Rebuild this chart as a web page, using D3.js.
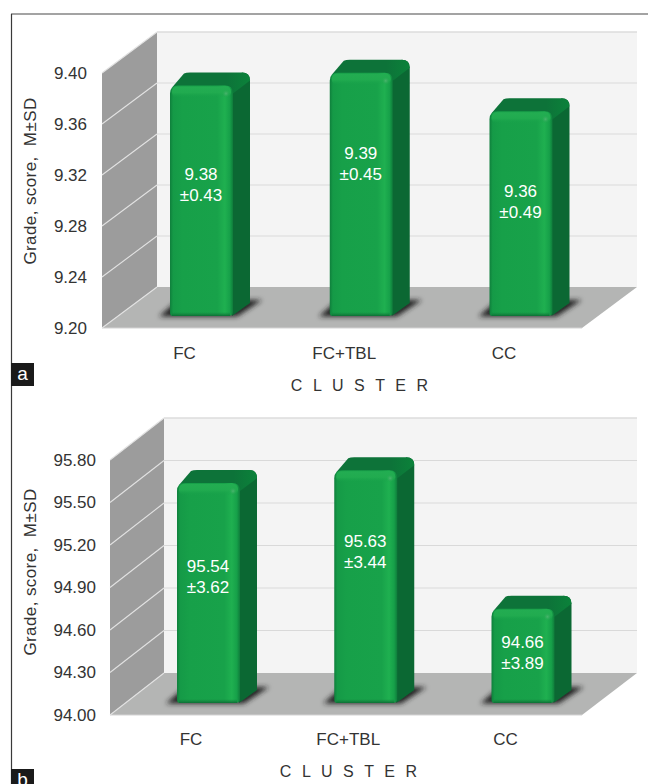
<!DOCTYPE html>
<html>
<head>
<meta charset="utf-8">
<script src="https://cdn.jsdelivr.net/npm/d3@7"></script>
<style>
  html, body { margin: 0; padding: 0; background: #fff; }
  svg { display: block; }
  text { font-family: "Liberation Sans", Arial, sans-serif; }
</style>
</head>
<body>
<svg id="chart" width="648" height="784"></svg>
<script>
// Cluster categories and grade summaries
const categories = ["FC", "FC+TBL", "CC"];
const meansA = [9.38, 9.39, 9.36];
const sdsA = [0.43, 0.45, 0.49];
const ticksA = [9.20, 9.24, 9.28, 9.32, 9.36, 9.40];
const meansB = [95.54, 95.63, 94.66];
const sdsB = [3.62, 3.44, 3.89];
const ticksB = [94.00, 94.30, 94.60, 94.90, 95.20, 95.50, 95.80];
const yTitle = "Grade, score,  M\u00b1SD";
const xTitle = "C L U S T E R";

// Box geometry of each panel
const layoutA = {
  tag: "a", tagY: 363, tagH: 23,
  left: 102, floorRight: 582, backRight: 637, depthX: 55, depthY: 41,
  yBottom: 328, yTop: 73, barBase: 316, barTop: 60,
  faces: [201.5, 521], labelShift: -17.5, catY: 355, titleX: 361, titleY: 385,
  yTitleY: 181, tickRight: 87, valueDrop: [88, 80, 80]
};
const layoutB = {
  tag: "b", tagY: 769, tagH: 15,
  left: 110, floorRight: 582, backRight: 637, depthX: 54, depthY: 42,
  yBottom: 715, yTop: 460, barBase: 703, barTop: 446,
  faces: [208.5, 523], labelShift: -18, catY: 741, titleX: 350, titleY: 771,
  yTitleY: 572, tickRight: 96, valueDrop: [83, 71, 33]
};

const svg = d3.select("#chart");
const defs = svg.append("defs");

// Shared paints for the bars
const faceGrad = defs.append("linearGradient").attr("id", "face");
[[0, "#0f7f3c"], [0.05, "#159a47"], [0.2, "#17a049"], [0.75, "#18a24a"],
 [0.87, "#1fb050"], [0.95, "#16a049"], [1, "#0f7c3b"]]
  .forEach(([o, c]) => faceGrad.append("stop").attr("offset", o).attr("stop-color", c));

const bevelGrad = defs.append("linearGradient").attr("id", "bevel")
  .attr("x1", 0).attr("x2", 0).attr("y1", 0).attr("y2", 1);
[[0, "#23ad52", 1], [0.55, "#22ac50", 0.9], [1, "#18a24a", 0]]
  .forEach(([o, c, a]) => bevelGrad.append("stop").attr("offset", o)
    .attr("stop-color", c).attr("stop-opacity", a));

const footGrad = defs.append("linearGradient").attr("id", "foot")
  .attr("x1", 0).attr("x2", 0).attr("y1", 0).attr("y2", 1);
[[0, "#137f3c", 0], [1, "#0d6f35", 1]]
  .forEach(([o, c, a]) => footGrad.append("stop").attr("offset", o)
    .attr("stop-color", c).attr("stop-opacity", a));

const topGrad = defs.append("linearGradient").attr("id", "topFace");
[[0, "#0d7339"], [0.7, "#0d7339"], [1, "#0b823a"]]
  .forEach(([o, c]) => topGrad.append("stop").attr("offset", o).attr("stop-color", c));

const glow = defs.append("radialGradient").attr("id", "glow");
[[0, "#58b878", 0.75], [1, "#2aa855", 0]]
  .forEach(([o, c, a]) => glow.append("stop").attr("offset", o)
    .attr("stop-color", c).attr("stop-opacity", a));

defs.append("filter").attr("id", "soft")
  .attr("x", "-30%").attr("y", "-60%").attr("width", "160%").attr("height", "220%")
  .append("feGaussianBlur").attr("stdDeviation", 2.6);

// Outer frame of the figure
svg.append("line").attr("x1", 11).attr("x2", 648).attr("y1", 14).attr("y2", 14)
  .attr("stroke", "#858585").attr("stroke-width", 1.5);
svg.append("line").attr("x1", 11.5).attr("x2", 11.5).attr("y1", 14).attr("y2", 784)
  .attr("stroke", "#3a3a3a").attr("stroke-width", 1.2);

function pathString(points) {
  return d3.line()(points) + "Z";
}

function drawPanel(layout, means, sds, ticks) {
  const L = layout;
  const g = svg.append("g");
  const y = d3.scaleLinear().domain(d3.extent(ticks)).range([L.yBottom, L.yTop]);
  const barY = d3.scaleLinear().domain(d3.extent(ticks)).range([L.barBase, L.barTop]);
  const face = d3.scalePoint().domain(categories).range(L.faces);
  const backX = L.left + L.depthX;
  const backBottom = L.yBottom - L.depthY;
  const backTop = L.yTop - L.depthY;

  // Back wall
  g.append("rect").attr("x", backX).attr("y", backTop)
    .attr("width", L.backRight - backX).attr("height", backBottom - backTop)
    .attr("fill", "#f4f4f4");
  g.append("line").attr("x1", backX).attr("x2", L.backRight)
    .attr("y1", backTop).attr("y2", backTop)
    .attr("stroke", "#dcdcdc").attr("stroke-width", 1.3);

  // Side wall
  g.append("path").attr("fill", "#9c9c9c").attr("d", pathString([
    [L.left, L.yBottom], [L.left, L.yTop], [backX, backTop], [backX, backBottom]
  ]));

  // Floor
  g.append("path").attr("fill", "#b4b5b4").attr("d", pathString([
    [L.left, L.yBottom], [backX, backBottom], [L.backRight, backBottom], [L.floorRight, L.yBottom]
  ]));
  g.append("line").attr("x1", L.left).attr("x2", L.floorRight)
    .attr("y1", L.yBottom).attr("y2", L.yBottom)
    .attr("stroke", "#d4d4d4").attr("stroke-width", 1.2);

  // Gridlines run along the back wall and fold onto the side wall
  const grid = g.append("g").selectAll("g").data(ticks).join("g");
  grid.append("line")
    .attr("x1", L.left).attr("x2", backX)
    .attr("y1", d => y(d)).attr("y2", d => y(d) - L.depthY)
    .attr("stroke", "#e2e2e2").attr("stroke-width", 1.1);
  grid.filter((d, i) => i > 0 && i < ticks.length - 1).append("line")
    .attr("x1", backX).attr("x2", L.backRight)
    .attr("y1", d => y(d) - L.depthY).attr("y2", d => y(d) - L.depthY)
    .attr("stroke", "#d9d9d9").attr("stroke-width", 1.2);

  // Bars
  const halfW = 31.5, dx = 17, dy = 13, r = 8;
  const bars = g.append("g").selectAll("g").data(means).join("g")
    .attr("transform", (d, i) => `translate(${face(categories[i])},0)`);

  // Contact shadow on the floor
  bars.append("path").attr("fill", "#222").attr("filter", "url(#soft)")
    .attr("d", () => pathString([
      [-halfW - 11, L.barBase + 0.5], [halfW + 4, L.barBase + 0.5],
      [halfW + dx + 12, L.barBase - dy - 3], [-halfW + 8, L.barBase - dy - 3]
    ]));

  // Right side of the bar
  bars.append("path").attr("fill", "#0b6833").attr("d", d => {
    const t = barY(d);
    return `M${halfW - 2},${t + 2}L${halfW + dx - r},${t - dy}` +
      `Q${halfW + dx},${t - dy} ${halfW + dx},${t - dy + r}` +
      `L${halfW + dx},${L.barBase - dy}L${halfW - 1},${L.barBase}Z`;
  });

  // Top of the bar
  bars.append("path").attr("fill", "url(#topFace)").attr("d", d => {
    const t = barY(d);
    return `M${-halfW + 2},${t + 2}L${-halfW + dx - 3},${t - dy + 1}` +
      `Q${-halfW + dx - 1},${t - dy} ${-halfW + dx + 3},${t - dy}` +
      `L${halfW + dx - r},${t - dy}Q${halfW + dx},${t - dy} ${halfW + dx},${t - dy + r}` +
      `L${halfW},${t + 8}Z`;
  });

  // Front of the bar, with rounded corners
  const frontPath = d => {
    const t = barY(d);
    return `M${-halfW},${t + r}Q${-halfW},${t} ${-halfW + r},${t}` +
      `L${halfW - r},${t}Q${halfW},${t} ${halfW},${t + r}` +
      `L${halfW},${L.barBase - 4}Q${halfW},${L.barBase} ${halfW - 5},${L.barBase}` +
      `L${-halfW + 3},${L.barBase}Q${-halfW},${L.barBase} ${-halfW},${L.barBase - 3}Z`;
  };
  bars.append("path").attr("fill", "url(#face)").attr("d", frontPath);

  // Lit bevel under the top edge, dark fade at the foot, corner glint
  bars.append("rect").attr("x", -halfW + 2).attr("width", 2 * halfW - 4)
    .attr("y", d => barY(d) + 1).attr("height", 11).attr("rx", 5)
    .attr("fill", "url(#bevel)");
  bars.append("rect").attr("x", -halfW + 2).attr("width", 2 * halfW - 5)
    .attr("y", L.barBase - 4).attr("height", 4)
    .attr("fill", "url(#foot)");
  bars.append("circle").attr("cx", halfW - 7).attr("cy", d => barY(d) + 8).attr("r", 4)
    .attr("fill", "url(#glow)");

  // Mean and SD printed on the bars
  const values = bars.append("text").attr("text-anchor", "middle")
    .attr("fill", "#ffffff").attr("font-size", 17);
  values.append("tspan").attr("x", -0.5)
    .attr("y", (d, i) => barY(d) + L.valueDrop[i] + 6)
    .text(d => d.toFixed(2));
  values.append("tspan").attr("x", -0.5)
    .attr("y", (d, i) => barY(d) + L.valueDrop[i] + 27)
    .text((d, i) => "\u00b1" + sds[i].toFixed(2));

  // Value axis
  const yAxis = d3.axisLeft(y).tickValues(ticks).tickSize(0).tickFormat(d3.format(".2f"));
  g.append("g").attr("transform", `translate(${L.tickRight + 3},0)`).call(yAxis)
    .call(s => s.select(".domain").remove())
    .call(s => s.selectAll("text").attr("font-size", 17).attr("fill", "#333")
      .attr("font-family", "'Liberation Sans', Arial, sans-serif"));

  // Category axis
  const cat = d3.scalePoint().domain(categories)
    .range(L.faces.map(v => v + L.labelShift));
  g.append("g").attr("transform", `translate(0,${L.catY - 6})`)
    .call(d3.axisBottom(cat).tickSize(0).tickPadding(0))
    .call(s => s.select(".domain").remove())
    .call(s => s.selectAll("text").attr("font-size", 17).attr("fill", "#333").attr("dy", "0.6em")
      .attr("font-family", "'Liberation Sans', Arial, sans-serif"));

  // Axis titles
  g.append("text").attr("transform", `translate(36,${L.yTitleY}) rotate(-90)`)
    .attr("text-anchor", "middle").attr("font-size", 17).attr("fill", "#333")
    .attr("letter-spacing", "0.4px")
    .attr("xml:space", "preserve").style("white-space", "pre").text(yTitle);
  g.append("text").attr("x", L.titleX).attr("y", L.titleY + 6)
    .attr("text-anchor", "middle").attr("font-size", 16).attr("fill", "#333")
    .attr("letter-spacing", "3.1px").text(xTitle);

  // Panel tag
  g.append("rect").attr("x", 11).attr("y", L.tagY).attr("width", 23).attr("height", L.tagH)
    .attr("fill", "#1a1a1a");
  g.append("text").attr("x", 22.5).attr("y", L.tagY + 17).attr("text-anchor", "middle")
    .attr("font-size", 19).attr("fill", "#fff").text(L.tag);
}

drawPanel(layoutA, meansA, sdsA, ticksA);
drawPanel(layoutB, meansB, sdsB, ticksB);
</script>
</body>
</html>
